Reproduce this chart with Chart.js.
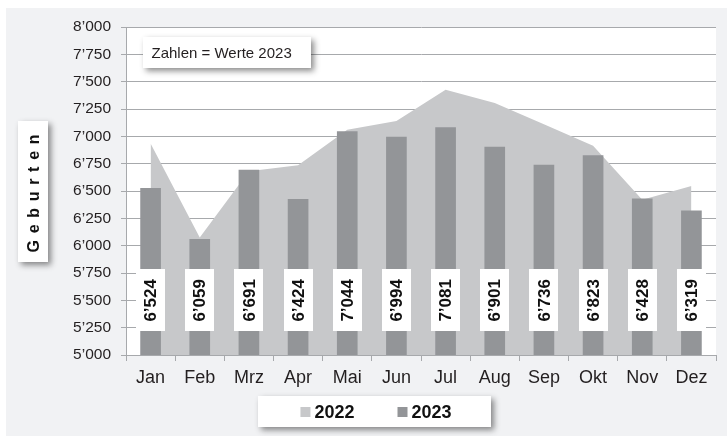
<!DOCTYPE html>
<html>
<head>
<meta charset="utf-8">
<script src="https://cdn.jsdelivr.net/npm/chart.js@4/dist/chart.umd.min.js"></script>
<style>
html,body{margin:0;padding:0;background:#ffffff;}
canvas{display:block;}
</style>
</head>
<body>
<canvas id="c" width="727" height="436"></canvas>
<script>
const months = ['Jan','Feb','Mrz','Apr','Mai','Jun','Jul','Aug','Sep','Okt','Nov','Dez'];
const values2022 = [6935, 6075, 6680, 6735, 7060, 7140, 7425, 7305, 7110, 6915, 6420, 6545];
const values2023 = [6524, 6059, 6691, 6424, 7044, 6994, 7081, 6901, 6736, 6823, 6428, 6319];
const seriesLabels = ['2022', '2023'];
const yTicks = [5000, 5250, 5500, 5750, 6000, 6250, 6500, 6750, 7000, 7250, 7500, 7750, 8000];
const yTitle = 'Geburten';
const noteText = 'Zahlen = Werte 2023';

const FONT = '"Liberation Sans", Arial, Helvetica, sans-serif';
const C2022 = '#c7c8ca';
const C2023 = '#939598';
const GRID = '#a7a9ac';
const TEXT = '#231f20';

function fmt(v){
  const t = Math.floor(v/1000), r = Math.round(v % 1000);
  return t + '\u2019' + String(r).padStart(3,'0');
}

function shadowBox(ctx, x, y, w, h){
  ctx.save();
  ctx.shadowColor = 'rgba(0,0,0,0.45)';
  ctx.shadowBlur = 6;
  ctx.shadowOffsetX = 3;
  ctx.shadowOffsetY = 3;
  ctx.fillStyle = '#ffffff';
  ctx.fillRect(x, y, w, h);
  ctx.restore();
}

const decor = {
  id: 'decor',
  beforeDraw(chart){
    const ctx = chart.ctx, a = chart.chartArea;
    ctx.save();
    ctx.fillStyle = '#f1f2f4';
    ctx.fillRect(6, 8, chart.width - 6, chart.height - 8);
    ctx.fillStyle = '#ffffff';
    ctx.fillRect(a.left, a.top, a.right - a.left, a.bottom - a.top);
    ctx.restore();
  },
  afterDraw(chart){
    const ctx = chart.ctx, ys = chart.scales.y;
    ctx.save();
    // data labels
    const meta = chart.getDatasetMeta(1);
    const ly = ys.getPixelForValue(5500);
    ctx.font = 'bold 17px ' + FONT;
    ctx.textAlign = 'center';
    ctx.textBaseline = 'middle';
    meta.data.forEach((bar, i) => {
      ctx.fillStyle = '#ffffff';
      ctx.fillRect(Math.round(bar.x - 14.5), Math.round(ly - 31), 29, 62);
      ctx.save();
      ctx.translate(bar.x + 1, ly);
      ctx.rotate(-Math.PI/2);
      ctx.fillStyle = '#111111';
      ctx.fillText(fmt(chart.data.datasets[1].data[i]), 0, 0);
      ctx.restore();
    });

    // y title box
    shadowBox(ctx, 18, 121, 30, 141);
    ctx.save();
    ctx.translate(34.5, 193.5);
    ctx.rotate(-Math.PI/2);
    ctx.font = 'bold 16px ' + FONT;
    ctx.fillStyle = '#111111';
    ctx.textBaseline = 'middle';
    ctx.textAlign = 'left';
    const sp = 6.7;
    let total = 0;
    for (const ch of yTitle) total += ctx.measureText(ch).width;
    total += sp * (yTitle.length - 1);
    let x = -total/2;
    for (const ch of yTitle){
      ctx.fillText(ch, x, 0);
      x += ctx.measureText(ch).width + sp;
    }
    ctx.restore();

    // note box
    shadowBox(ctx, 143, 37, 168, 31);
    ctx.font = '15px ' + FONT;
    ctx.fillStyle = TEXT;
    ctx.textAlign = 'left';
    ctx.textBaseline = 'alphabetic';
    ctx.fillText(noteText, 151.5, 58);

    // legend box
    shadowBox(ctx, 258, 396, 233, 31);
    ctx.font = 'bold 18px ' + FONT;
    const colors = [C2022, C2023];
    const widths = seriesLabels.map(s => ctx.measureText(s).width);
    const itemW = widths.map(w => 10 + 4 + w);
    const gap = 43;
    let lx = 376 - (itemW[0] + itemW[1] + gap)/2;
    seriesLabels.forEach((s, i) => {
      ctx.fillStyle = colors[i];
      ctx.fillRect(lx, 407, 10, 10);
      ctx.fillStyle = '#111111';
      ctx.fillText(s, lx + 14, 417.5);
      lx += itemW[i] + gap;
    });
    ctx.restore();
  }
};

new Chart(document.getElementById('c'), {
  type: 'bar',
  data: {
    labels: months,
    datasets: [
      {
        type: 'line',
        label: seriesLabels[0],
        data: values2022,
        fill: 'start',
        backgroundColor: C2022,
        borderColor: C2022,
        borderWidth: 0,
        pointRadius: 0,
        tension: 0,
        order: 2
      },
      {
        type: 'bar',
        label: seriesLabels[1],
        data: values2023,
        backgroundColor: C2023,
        barThickness: 20,
        order: 1
      }
    ]
  },
  options: {
    responsive: false,
    animation: false,
    devicePixelRatio: 1,
    layout: { padding: { top: 27, right: 11, left: 0, bottom: 0 } },
    plugins: { legend: { display: false }, tooltip: { enabled: false } },
    scales: {
      x: {
        grid: { display: true, drawOnChartArea: false, drawTicks: true, tickLength: 6, color: GRID, offset: true },
        border: { display: true, color: GRID, width: 1 },
        ticks: { color: TEXT, font: { family: FONT, size: 18 }, padding: 6, maxRotation: 0 },
        afterFit(s){ s.height = 81; }
      },
      y: {
        min: 5000, max: 8000,
        afterBuildTicks(s){ s.ticks = yTicks.map(v => ({ value: v })); },
        grid: { color: GRID, lineWidth: 1, tickLength: 5, drawTicks: true },
        border: { display: true, color: GRID, width: 1 },
        ticks: { color: TEXT, font: { family: FONT, size: 15.5 }, padding: 10, callback: v => fmt(v) },
        afterFit(s){ s.width = 126; }
      }
    }
  },
  plugins: [decor]
});
</script>
</body>
</html>
